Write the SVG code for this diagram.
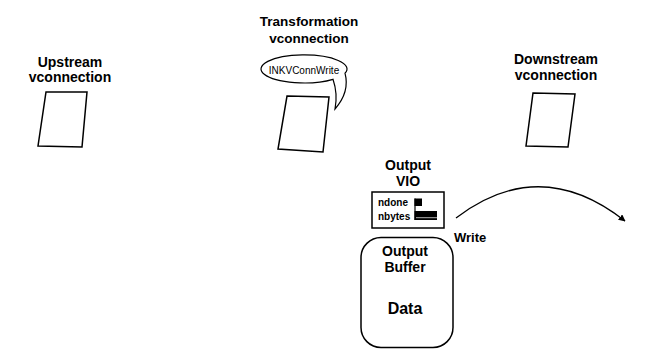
<svg xmlns="http://www.w3.org/2000/svg" width="671" height="360" viewBox="0 0 671 360">
<defs>
<style>
.t{font-family:"Liberation Sans",Arial,sans-serif;font-weight:bold;font-size:14px;fill:#000;text-anchor:middle}
.s{font-family:"Liberation Sans",Arial,sans-serif;font-weight:bold;font-size:10px;fill:#000}
.shape{fill:#fff;stroke:#000;stroke-width:1.5}
.conn{fill:none;stroke:#000;stroke-width:1.3}
</style>
<marker id="ah" viewBox="0 0 10 10" refX="9" refY="5" markerWidth="7" markerHeight="7" orient="auto" markerUnits="userSpaceOnUse">
<path d="M0,0 L10,5 L0,10 z" fill="#000"/>
</marker>
</defs>
<rect width="671" height="360" fill="#fff"/>
<g id="upstream">
<text class="t" x="70" y="67">Upstream</text>
<text class="t" x="70" y="82">vconnection</text>
<polygon class="shape" points="46,92 87,92 82,147 38,146"/>
</g>
<g id="transformation">
<text class="t" x="309" y="26" style="font-size:13.5px">Transformation</text>
<text class="t" x="309" y="43" style="font-size:13.5px">vconnection</text>
<polygon class="shape" points="287,96 329,97 323,152 278,149"/>
</g>
<g id="bubble">
<path class="shape" style="stroke-width:1.2" d="M333,79.3 A43 14 0 1 1 345,73.2 Q350,92 335,109 Q338,94 333,79.3 Z"/>
<text x="304" y="74" style="font-family:'Liberation Sans',Arial,sans-serif;font-size:10px;fill:#000;text-anchor:middle">INKVConnWrite</text>
</g>
<g id="downstream">
<text class="t" x="556" y="64">Downstream</text>
<text class="t" x="556" y="80">vconnection</text>
<polygon class="shape" points="533,93 575,94 568,147 526,146"/>
</g>
<g id="output-vio">
<text class="t" x="408" y="170">Output</text>
<text class="t" x="408" y="186">VIO</text>
<rect class="shape" x="372" y="192" width="72" height="36"/>
<text class="s" x="378" y="206">ndone</text>
<text class="s" x="378" y="220">nbytes</text>
<rect x="414.5" y="198.5" width="7.5" height="7.5" fill="#000"/>
<line x1="415" y1="198.5" x2="415" y2="220" stroke="#000" stroke-width="1.2"/>
<rect x="414.5" y="211" width="22.5" height="9" fill="#000"/>
<line x1="416" y1="217.7" x2="437" y2="217.7" stroke="#fff" stroke-width="0.7"/>
</g>
<g id="output-buffer">
<rect class="shape" x="361" y="237.5" width="92" height="110" rx="20" ry="20"/>
<text class="t" x="405" y="256">Output</text>
<text class="t" x="405" y="272">Buffer</text>
<text class="t" x="405" y="314" style="font-size:16px">Data</text>
</g>
<g id="connectors">
<path class="conn" d="M456,218 Q540,154 625,221" marker-end="url(#ah)"/>
<text x="454" y="242" style="font-family:'Liberation Sans',Arial,sans-serif;font-weight:bold;font-size:13px;fill:#000">Write</text>
</g>
</svg>
